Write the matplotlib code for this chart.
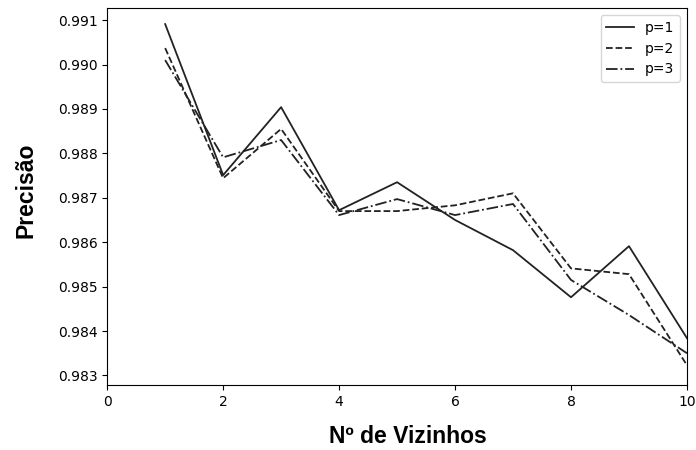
import matplotlib
matplotlib.use("Agg")
import matplotlib.pyplot as plt

# numero de vizinhos
vizinhos = [1, 2, 3, 4, 5, 6, 7, 8, 9, 10]

# precisao para cada p (distancia de Minkowski)
prec_p1 = [0.99091, 0.98751, 0.98904, 0.98672, 0.98735, 0.98650, 0.98582, 0.98476, 0.98591, 0.98384]
prec_p2 = [0.99037, 0.98744, 0.98855, 0.98670, 0.98670, 0.98683, 0.98710, 0.98541, 0.98528, 0.98323]
prec_p3 = [0.99010, 0.98791, 0.98830, 0.98661, 0.98697, 0.98661, 0.98686, 0.98515, 0.98436, 0.98350]

fig = plt.figure(figsize=(6.96, 4.5), dpi=100)
ax = fig.add_axes([0.154, 0.144, 0.833, 0.838])

ax.plot(vizinhos, prec_p1, color='#222222', linestyle='-', linewidth=1.3, label='p=1')
ax.plot(vizinhos, prec_p2, color='#222222', linestyle='--', linewidth=1.3, label='p=2')
ax.plot(vizinhos, prec_p3, color='#222222', linestyle='-.', linewidth=1.3, label='p=3')

ax.set_xlim(0, 10)
ax.set_ylim(0.98278, 0.99127)
ax.set_xticks([0, 2, 4, 6, 8, 10])
ax.set_yticks([0.983, 0.984, 0.985, 0.986, 0.987, 0.988, 0.989, 0.990, 0.991])

# rotulos em Arial (Liberation Sans) negrito, maiores que os ticks
rotulo = dict(fontsize=16.5, fontweight='bold', family='Liberation Sans')
ax.set_xlabel('Nº de Vizinhos', **rotulo)
ax.set_ylabel('Precisão', **rotulo)
# no original os rotulos nao ficam bem no centro do eixo
ax.xaxis.set_label_coords(0.519, -0.106)
ax.yaxis.set_label_coords(-0.121, 0.517)
ax.legend(loc='upper right')

fig.savefig('out.png', dpi=100)
